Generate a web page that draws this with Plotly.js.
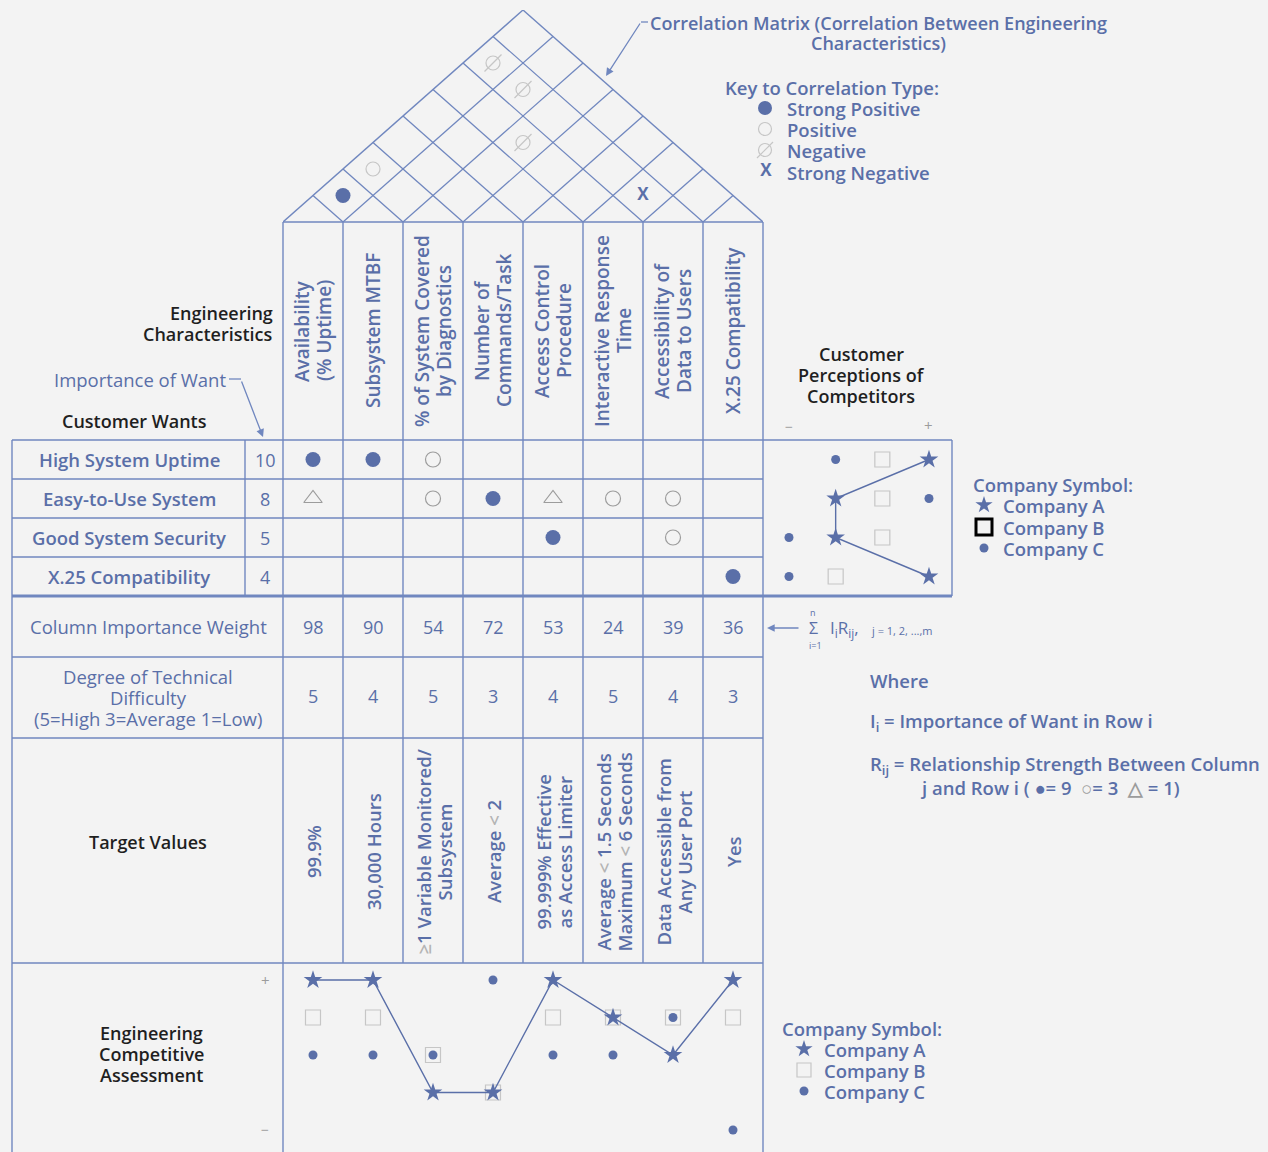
<!DOCTYPE html>
<html>
<head>
<meta charset="utf-8">
<script src="https://cdn.plot.ly/plotly-3.0.1.min.js"></script>
<style>
  html, body { margin: 0; padding: 0; background: #f3f3f3; }
  #chart { width: 1268px; height: 1152px; }
</style>
</head>
<body>
<div id="chart"></div>
<script>
// ---- data ----
const engChars = ['Availability<br>(% Uptime)', 'Subsystem MTBF', '% of System Covered<br>by Diagnostics',
  'Number of<br>Commands/Task', 'Access Control<br>Procedure', 'Interactive Response<br>Time',
  'Accessibility of<br>Data to Users', 'X.25 Compatibility'];
const wants = ['High System Uptime', 'Easy-to-Use System', 'Good System Security', 'X.25 Compatibility'];
const importance = [10, 8, 5, 4];
// relationship strength: 9 = strong, 3 = medium, 1 = weak, 0 = none
const relation = [
  [9, 9, 3, 0, 0, 0, 0, 0],
  [1, 0, 3, 9, 1, 3, 3, 0],
  [0, 0, 0, 0, 9, 0, 3, 0],
  [0, 0, 0, 0, 0, 0, 0, 9]
];
const columnWeight = [98, 90, 54, 72, 53, 24, 39, 36];
const difficulty = [5, 4, 5, 3, 4, 5, 4, 3];
const LT = '<span style="color:#b4b4b4">&lt;</span>';
const targetValues = ['99.9%', '30,000 Hours',
  '<span style="color:#b4b4b4">≥</span>1 Variable Monitored/<br>Subsystem',
  'Average ' + LT + ' 2', '99.999% Effective<br>as Access Limiter',
  'Average ' + LT + ' 1.5 Seconds<br>Maximum ' + LT + ' 6 Seconds',
  'Data Accessible from<br>Any User Port', 'Yes'];
// roof correlations: [column i, column j, type]
const corrI = [0, 0, 0, 1, 2, 5];
const corrJ = [1, 2, 6, 6, 5, 6];
const corrType = ['++', '+', '-', '-', '-', '--'];
// customer perceptions (1 = worst, 4 = best), one per want
const perceptA = [4, 2, 2, 4];
const perceptB = [3, 3, 3, 2];
const perceptC = [2, 4, 1, 1];
// engineering competitive assessment (1 = -, 5 = +), one per column
const assessA = [5, 5, 2, 2, 5, 4, 3, 5];
const assessB = [4, 4, 3, 2, 4, 4, 4, 4];
const assessC = [3, 3, 3, 5, 3, 3, 4, 1];

// ---- style ----
const W = 1268, H = 1152;
const BLUE = '#5a6fa8', LINE = '#7087bf', GREY = '#9c9c9c', LIGHT = '#c6c6c6', INK = '#1f1f1f';
const FONT = 'Open Sans, Liberation Sans, Arial, sans-serif';
const WT = 600;
const COLW = 60; // px per column on x2
const dom = (top, bot) => [1 - bot / H, 1 - top / H];

const cols = engChars.map((_, j) => j);
const rows = wants.map((_, i) => i);

// ---- traces ----
const traces = [];
function pick(mat, v) {
  const x = [], y = [];
  mat.forEach((r, i) => r.forEach((c, j) => { if (c === v) { x.push(j); y.push(i); } }));
  return { x, y };
}
const strong = pick(relation, 9), medium = pick(relation, 3), weak = pick(relation, 1);
traces.push({ x: strong.x, y: strong.y, xaxis: 'x2', yaxis: 'y2', mode: 'markers',
  marker: { symbol: 'circle', size: 15, color: BLUE } });
traces.push({ x: medium.x, y: medium.y, xaxis: 'x2', yaxis: 'y2', mode: 'markers',
  marker: { symbol: 'circle-open', size: 15, color: GREY, line: { width: 1.2 } } });
traces.push({ x: weak.x, y: weak.y, xaxis: 'x2', yaxis: 'y2', mode: 'markers',
  marker: { symbol: 'triangle-up-open', size: 16, color: GREY, line: { width: 1.2 } } });

// roof: x = midpoint of the two columns, y = their distance
function corr(t) {
  const x = [], y = [];
  corrType.forEach((c, k) => { if (c === t) { x.push((corrI[k] + corrJ[k]) / 2); y.push(corrJ[k] - corrI[k]); } });
  return { x, y };
}
const cpp = corr('++'), cp = corr('+'), cn = corr('-'), cnn = corr('--');
traces.push({ x: cpp.x, y: cpp.y, xaxis: 'x2', yaxis: 'y4', mode: 'markers',
  marker: { symbol: 'circle', size: 15, color: BLUE } });
traces.push({ x: cp.x, y: cp.y, xaxis: 'x2', yaxis: 'y4', mode: 'markers',
  marker: { symbol: 'circle-open', size: 14, color: LIGHT, line: { width: 1.2 } } });
traces.push({ x: cn.x, y: cn.y, xaxis: 'x2', yaxis: 'y4', mode: 'markers',
  marker: { symbol: 'circle-open', size: 14, color: LIGHT, line: { width: 1.2 } } });
traces.push({ x: cn.x, y: cn.y, xaxis: 'x2', yaxis: 'y4', mode: 'markers',
  marker: { symbol: 'line-ne-open', size: 17, color: LIGHT, line: { width: 1.2 } } });
traces.push({ x: cnn.x, y: cnn.y, xaxis: 'x2', yaxis: 'y4', mode: 'text', text: cnn.x.map(() => 'X'),
  textfont: { family: FONT, size: 17, color: BLUE, weight: 'bold' } });

// customer perceptions of competitors
traces.push({ x: perceptB, y: rows, xaxis: 'x3', yaxis: 'y2', mode: 'markers',
  marker: { symbol: 'square-open', size: 15, color: LIGHT, line: { width: 1.2 } } });
traces.push({ x: perceptC, y: rows, xaxis: 'x3', yaxis: 'y2', mode: 'markers',
  marker: { symbol: 'circle', size: 9, color: BLUE } });
traces.push({ x: perceptA, y: rows, xaxis: 'x3', yaxis: 'y2', mode: 'lines+markers',
  line: { color: BLUE, width: 1.4 },
  marker: { symbol: 'star', size: 14, color: BLUE } });

// engineering competitive assessment
traces.push({ x: cols, y: assessB, xaxis: 'x2', yaxis: 'y3', mode: 'markers',
  marker: { symbol: 'square-open', size: 15, color: LIGHT, line: { width: 1.2 } } });
traces.push({ x: cols, y: assessC, xaxis: 'x2', yaxis: 'y3', mode: 'markers',
  marker: { symbol: 'circle', size: 9, color: BLUE } });
traces.push({ x: cols, y: assessA, xaxis: 'x2', yaxis: 'y3', mode: 'lines+markers',
  line: { color: BLUE, width: 1.4 },
  marker: { symbol: 'star', size: 14, color: BLUE } });

// keys (pixel axes)
traces.push({ x: [765], y: [108], mode: 'markers', marker: { symbol: 'circle', size: 14, color: BLUE } });
traces.push({ x: [765, 765], y: [129, 150], mode: 'markers',
  marker: { symbol: 'circle-open', size: 13, color: LIGHT, line: { width: 1.2 } } });
traces.push({ x: [765], y: [150], mode: 'markers',
  marker: { symbol: 'line-ne-open', size: 16, color: LIGHT, line: { width: 1.2 } } });
traces.push({ x: [766], y: [172], mode: 'text', text: ['X'],
  textfont: { family: FONT, size: 17, color: BLUE, weight: 'bold' } });
traces.push({ x: [984, 804], y: [505, 1049], mode: 'markers',
  marker: { symbol: 'star', size: 13, color: BLUE } });
traces.push({ x: [984], y: [527], mode: 'markers',
  marker: { symbol: 'square-open', size: 16, color: '#000', line: { width: 3 } } });
traces.push({ x: [804], y: [1070], mode: 'markers',
  marker: { symbol: 'square-open', size: 14, color: LIGHT, line: { width: 1.2 } } });
traces.push({ x: [984, 804], y: [548, 1091], mode: 'markers', marker: { symbol: 'circle', size: 9, color: BLUE } });

traces.forEach(t => { t.cliponaxis = false; t.showlegend = false; t.hoverinfo = 'skip'; if (!t.type) t.type = 'scatter'; });

// ---- grid shapes ----
const shapes = [];
function ln(x0, y0, x1, y1, w, xref, yref) {
  shapes.push({ type: 'line', x0, y0, x1, y1, xref: xref || 'x', yref: yref || 'y', layer: 'below',
    line: { color: LINE, width: w || 1.4 } });
}
// roof
ln(-0.5, 0, 3.5, 8, 1.4, 'x2', 'y4');
ln(7.5, 0, 3.5, 8, 1.4, 'x2', 'y4');
for (let k = 1; k < 8; k++) {
  const b = k - 0.5;
  ln(b, 0, b + (7.5 - b) / 2, 7.5 - b, 1.3, 'x2', 'y4');
  ln(b, 0, b - (b + 0.5) / 2, b + 0.5, 1.3, 'x2', 'y4');
}
ln(283, 222, 763, 222);
// column lines
for (let k = 0; k <= 8; k++) {
  const x = 283 + COLW * k;
  ln(x, 222, x, (k === 0 || k === 8) ? H : 963);
}
// rows
ln(12, 440, 952, 440);
[479, 518, 557].forEach(y => ln(12, y, 763, y));
ln(12, 596, 952, 596, 3);
[657, 738, 963].forEach(y => ln(12, y, 763, y));
ln(12, 440, 12, H);
ln(245, 440, 245, 596);
ln(952, 440, 952, 596);
// arrow tails
ln(641, 22, 648, 22, 1.3);
ln(229, 379, 241, 379, 1.3);

// ---- text ----
const ann = [];
function txt(text, x, y, o) {
  const a = Object.assign({ text, x, y, xref: 'x', yref: 'y', showarrow: false }, o || {});
  a.font = Object.assign({ family: FONT, size: 18.5, color: BLUE, weight: WT }, (o && o.font) || {});
  ann.push(a);
}
// multi-line text with a fixed line gap (px); rotated ones step along x2 columns
function lines(text, x, y, gap, o, rotated) {
  const parts = text.split('<br>');
  const n = parts.length;
  parts.forEach((s, k) => {
    const off = (k - (n - 1) / 2) * gap;
    if (rotated) txt(s, x + off / COLW, y, o);
    else txt(s, x, y + off, o);
  });
}
const blk = { color: INK, size: 18 };

lines('Correlation Matrix (Correlation Between Engineering<br>Characteristics)', 878, 33, 20, { font: { size: 18 } });
txt('Key to Correlation Type:', 723, 87, { xanchor: 'left' });
['Strong Positive', 'Positive', 'Negative', 'Strong Negative'].forEach((s, k) =>
  txt(s, 785, [108, 129, 150, 172][k], { xanchor: 'left' }));

engChars.forEach((s, j) => lines(s, j, 331, 22, { xref: 'x2', textangle: -90, font: { size: 19 } }, true));
lines('Engineering<br>Characteristics', 275, 323, 21, { xanchor: 'right', font: blk });
txt('Importance of Want', 228, 379, { xanchor: 'right', font: { weight: 400 } });
txt('Customer Wants', 134, 421, { font: blk });
wants.forEach((s, i) => txt(s, 129, i, { yref: 'y2' }));
importance.forEach((v, i) => txt(String(v), 265, i, { yref: 'y2', font: { weight: 400, size: 18 } }));

lines('Customer<br>Perceptions of<br>Competitors', 861, 375, 21, { font: blk });
txt('−', 1, 426, { xref: 'x3', font: { size: 14, color: GREY, weight: 400 } });
txt('+', 4, 425, { xref: 'x3', font: { size: 15, color: GREY, weight: 400 } });
txt('Company Symbol:', 971, 484, { xanchor: 'left' });
['Company A', 'Company B', 'Company C'].forEach((s, k) => txt(s, 1001, [505, 527, 548][k], { xanchor: 'left' }));

txt('Column Importance Weight', 148, 626, { font: { weight: 400 } });
columnWeight.forEach((v, j) => txt(String(v), j, 627, { xref: 'x2', font: { weight: 400, size: 18 } }));
lines('Degree of Technical<br>Difficulty<br>(5=High 3=Average 1=Low)', 148, 697, 21, { font: { weight: 400, size: 18.5 } });
difficulty.forEach((v, j) => txt(String(v), j, 696, { xref: 'x2', font: { weight: 400, size: 18 } }));

// formula
ann.push({ x: 767, y: 628, ax: 800, ay: 628, xref: 'x', yref: 'y', axref: 'x', ayref: 'y', text: '',
  showarrow: true, arrowhead: 2, arrowsize: 1.1, arrowwidth: 1.4, arrowcolor: LINE });
txt('Σ', 813, 628, { font: { size: 16, weight: 400 } });
txt('n', 813, 612, { font: { size: 9, weight: 400 } });
txt('i=1', 815, 645, { font: { size: 9, weight: 400 } });
txt('I<sub>i</sub>R<sub>ij</sub>,', 828, 628, { xanchor: 'left', font: { size: 17, weight: 400 } });
txt('j = 1, 2, ...,m', 869, 630, { xanchor: 'left', font: { size: 11, weight: 400 } });

txt('Where', 868, 680, { xanchor: 'left' });
txt('I<sub>i</sub> = Importance of Want in Row i', 868, 722, { xanchor: 'left' });
txt('R<sub>ij</sub> = Relationship Strength Between Column', 868, 765, { xanchor: 'left' });
txt('j and Row i ( <span style="color:#5a6fa8">●</span>= 9  <span style="color:#9c9c9c">○</span>= 3  <span style="color:#9c9c9c">△</span> = 1)',
  918, 787, { xanchor: 'left' });

txt('Target Values', 148, 842, { font: blk });
targetValues.forEach((s, j) => lines(s, j, 852, 21, { xref: 'x2', textangle: -90 }, true));

lines('Engineering<br>Competitive<br>Assessment', 151, 1054, 21, { font: blk });
txt('+', 265, 5, { yref: 'y3', font: { size: 15, color: GREY, weight: 400 } });
txt('−', 265, 1, { yref: 'y3', font: { size: 14, color: GREY, weight: 400 } });
txt('Company Symbol:', 780, 1028, { xanchor: 'left' });
['Company A', 'Company B', 'Company C'].forEach((s, k) => txt(s, 822, [1049, 1070, 1091][k], { xanchor: 'left' }));

// arrows
ann.push({ x: 606, y: 76, ax: 641, ay: 22, xref: 'x', yref: 'y', axref: 'x', ayref: 'y', text: '',
  showarrow: true, arrowhead: 2, arrowsize: 1.2, arrowwidth: 1.3, arrowcolor: LINE });
ann.push({ x: 263, y: 437, ax: 241, ay: 380, xref: 'x', yref: 'y', axref: 'x', ayref: 'y', text: '',
  showarrow: true, arrowhead: 2, arrowsize: 1.2, arrowwidth: 1.3, arrowcolor: LINE });

const hidden = { visible: false, fixedrange: true };
const layout = {
  width: W, height: H,
  margin: { l: 0, r: 0, t: 0, b: 0 },
  paper_bgcolor: '#f3f3f3', plot_bgcolor: 'rgba(0,0,0,0)',
  showlegend: false, hovermode: false,
  xaxis: Object.assign({ range: [0, W], domain: [0, 1] }, hidden),
  yaxis: Object.assign({ range: [H, 0], domain: [0, 1] }, hidden),
  xaxis2: Object.assign({ range: [-0.5, 7.5], domain: [283 / W, 763 / W], anchor: 'y2' }, hidden),
  xaxis3: Object.assign({ range: [0.443, 4.493], domain: [763 / W, 952 / W], anchor: 'y2' }, hidden),
  yaxis2: Object.assign({ range: [3.5, -0.5], domain: dom(440, 596), anchor: 'x2' }, hidden),
  yaxis3: Object.assign({ range: [0.413, 5.453], domain: dom(963, H), anchor: 'x2' }, hidden),
  yaxis4: Object.assign({ range: [0, 8], domain: dom(10, 222), anchor: 'x2' }, hidden),
  shapes: shapes,
  annotations: ann
};

Plotly.newPlot('chart', traces, layout, { staticPlot: true, displayModeBar: false });
</script>
</body>
</html>
